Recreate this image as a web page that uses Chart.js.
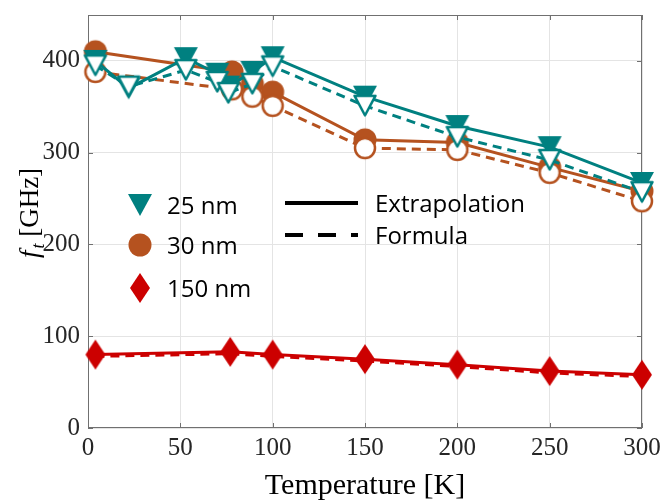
<!DOCTYPE html>
<html>
<head>
<meta charset="utf-8">
<script src="https://cdn.jsdelivr.net/npm/chart.js@4.4.0/dist/chart.umd.min.js"></script>
<style>
  html, body { margin: 0; padding: 0; background: #fff; }
  #chart { display: block; }
</style>
</head>
<body>
<canvas id="chart" width="660" height="503"></canvas>
<script>
// temperature [K] and f_t [GHz]
const temp25 = [4, 22, 53, 70, 76, 89, 100, 150, 200, 250, 300];
const ft25Ext = [400, 370, 403, 386, 372, 388, 404, 361, 329, 306, 267];
const ft25For = [395, 372, 390, 377, 365, 375, 394, 351, 317, 292, 257];

const temp30 = [4, 78, 89, 100, 150, 200, 250, 300];
const ft30Ext = [410, 388, 375, 366, 314, 311, 284, 258];
const ft30For = [388, 369, 361, 351, 305, 303, 278, 247];

const temp150 = [4, 77, 100, 150, 200, 250, 300];
const ft150Ext = [80, 83, 80, 75, 69, 62, 58];
const ft150For = [78, 81, 78, 73, 67, 60, 56];

const sizeLabels = ['25 nm', '30 nm', '150 nm'];
const methodLabels = ['Extrapolation', 'Formula'];

const TEAL = '#008080';
const ORANGE = '#B5521F';
const RED = '#CC0000';
const AXIS = '#707070';
const DASH = [9, 6];

// marker images (MATLAB style: v, o, d)
function marker(shape, color, filled) {
  const c = document.createElement('canvas');
  const w = shape === 'diamond' ? 22 : 26;
  const h = shape === 'diamond' ? 32 : 26;
  c.width = w; c.height = h;
  const g = c.getContext('2d');
  const k = filled ? 0 : 1.5;
  g.beginPath();
  if (shape === 'tri') {
    g.moveTo(1 + k, 2 + k * 0.6);
    g.lineTo(w - 1 - k, 2 + k * 0.6);
    g.lineTo(w / 2, h - 2 - k);
    g.closePath();
  } else if (shape === 'circle') {
    g.arc(w / 2, h / 2, 11.5 - k, 0, Math.PI * 2);
  } else {
    g.moveTo(w / 2, 1); g.lineTo(w - 1, h / 2); g.lineTo(w / 2, h - 1); g.lineTo(1, h / 2);
    g.closePath();
  }
  if (filled) {
    g.fillStyle = color; g.fill();
  } else {
    g.fillStyle = '#fff'; g.fill();
    g.lineJoin = 'round';
    g.lineWidth = 2.5; g.strokeStyle = color; g.stroke();
  }
  return c;
}

const triFull = marker('tri', TEAL, true);
const triOpen = marker('tri', TEAL, false);
const dotFull = marker('circle', ORANGE, true);
const dotOpen = marker('circle', ORANGE, false);
const diaFull = marker('diamond', RED, true);

function series(xs, ys) {
  return xs.map((x, i) => ({ x: x, y: ys[i] }));
}

function ds(label, xs, ys, color, dashed, img, order) {
  return {
    label: label,
    data: series(xs, ys),
    borderColor: color,
    backgroundColor: color,
    borderWidth: 3,
    borderDash: dashed ? DASH : [],
    pointStyle: img || 'circle',
    pointRadius: img ? 12 : 0,
    fill: false,
    tension: 0,
    clip: false,
    order: order
  };
}

const frame = {
  id: 'frame',
  beforeDatasetsDraw(chart) {
    const { ctx, chartArea: a, scales } = chart;
    ctx.save();
    ctx.strokeStyle = AXIS;
    ctx.lineWidth = 1;
    ctx.strokeRect(a.left + 0.5, a.top + 0.5, a.right - a.left - 1, a.bottom - a.top - 1);
    ctx.beginPath();
    scales.y.ticks.forEach(t => {
      const y = Math.round(scales.y.getPixelForValue(t.value)) + 0.5;
      ctx.moveTo(a.left, y); ctx.lineTo(a.left + 5, y);
      ctx.moveTo(a.right, y); ctx.lineTo(a.right - 5, y);
    });
    scales.x.ticks.forEach(t => {
      const x = Math.round(scales.x.getPixelForValue(t.value)) + 0.5;
      ctx.moveTo(x, a.bottom); ctx.lineTo(x, a.bottom - 5);
      ctx.moveTo(x, a.top); ctx.lineTo(x, a.top + 5);
    });
    ctx.stroke();
    ctx.restore();
  },
  afterDraw(chart) {
    const { ctx, chartArea: a } = chart;
    ctx.save();
    ctx.fillStyle = '#000';

    // x title
    ctx.font = '30px "Liberation Serif"';
    ctx.textAlign = 'center';
    ctx.textBaseline = 'alphabetic';
    ctx.fillText('Temperature [K]', (a.left + a.right) / 2, 494);

    // y title: f_t [GHz]
    ctx.save();
    ctx.translate(38, 213);
    ctx.rotate(-Math.PI / 2);
    ctx.textAlign = 'left';
    const fBig = 'italic 27px "Liberation Serif"';
    const fSub = 'italic 18px "Liberation Serif"';
    const fRom = '27px "Liberation Serif"';
    ctx.font = fBig; const wf = ctx.measureText('f').width + 2;
    ctx.font = fSub; const wt = ctx.measureText('t').width;
    ctx.font = fRom; const wr = ctx.measureText(' [GHz]').width;
    let x0 = -(wf + wt + wr) / 2;
    ctx.font = fBig; ctx.fillText('f', x0, 0);
    ctx.font = fSub; ctx.fillText('t', x0 + wf, 6);
    ctx.font = fRom; ctx.fillText(' [GHz]', x0 + wf + wt, 0);
    ctx.restore();

    // legend
    const imgs = [triFull, dotFull, diaFull];
    const rowY = [205, 245, 288];
    ctx.font = '24px "Open Sans"';
    ctx.textAlign = 'left';
    imgs.forEach((img, i) => {
      ctx.drawImage(img, 140 - img.width / 2, rowY[i] - img.height / 2);
      ctx.fillText(sizeLabels[i], 167, rowY[i] + 9);
    });
    const lineY = [203, 235];
    ctx.strokeStyle = '#000';
    ctx.lineWidth = 4;
    lineY.forEach((y, i) => {
      ctx.setLineDash(i === 0 ? [] : [18, 15]);
      ctx.beginPath();
      ctx.moveTo(285, y); ctx.lineTo(358, y);
      ctx.stroke();
      ctx.fillText(methodLabels[i], 375, y + 9);
    });
    ctx.restore();
  }
};

const tickFont = { family: '"Liberation Serif"', size: 25 };

new Chart(document.getElementById('chart'), {
  type: 'line',
  data: {
    datasets: [
      ds('150 nm Formula', temp150, ft150For, RED, true, null, 0),
      ds('150 nm Extrapolation', temp150, ft150Ext, RED, false, diaFull, 1),
      ds('25 nm Formula', temp25, ft25For, TEAL, true, triOpen, 2),
      ds('25 nm Extrapolation', temp25, ft25Ext, TEAL, false, triFull, 3),
      ds('30 nm Formula', temp30, ft30For, ORANGE, true, dotOpen, 4),
      ds('30 nm Extrapolation', temp30, ft30Ext, ORANGE, false, dotFull, 5)
    ]
  },
  options: {
    responsive: false,
    animation: false,
    events: [],
    devicePixelRatio: 1,
    layout: { padding: { left: 0, top: 7, right: 18, bottom: 0 } },
    plugins: { legend: { display: false }, tooltip: { enabled: false } },
    scales: {
      x: {
        type: 'linear',
        min: 0, max: 300,
        ticks: { stepSize: 50, font: tickFont, color: '#262626', padding: 5, maxRotation: 0 },
        grid: { color: '#e4e4e4', drawTicks: false },
        border: { display: false },
        afterFit(s) { s.height = 75; s.paddingLeft = 0; s.paddingRight = 0; }
      },
      y: {
        type: 'linear',
        min: 0, max: 450,
        ticks: { stepSize: 100, font: tickFont, color: '#262626', padding: 8 },
        grid: { color: '#e4e4e4', drawTicks: false },
        border: { display: false },
        afterBuildTicks(s) { s.ticks = s.ticks.filter(t => t.value <= 400); },
        afterFit(s) { s.width = 88; s.paddingTop = 0; s.paddingBottom = 0; }
      }
    }
  },
  plugins: [frame]
});
</script>
</body>
</html>
